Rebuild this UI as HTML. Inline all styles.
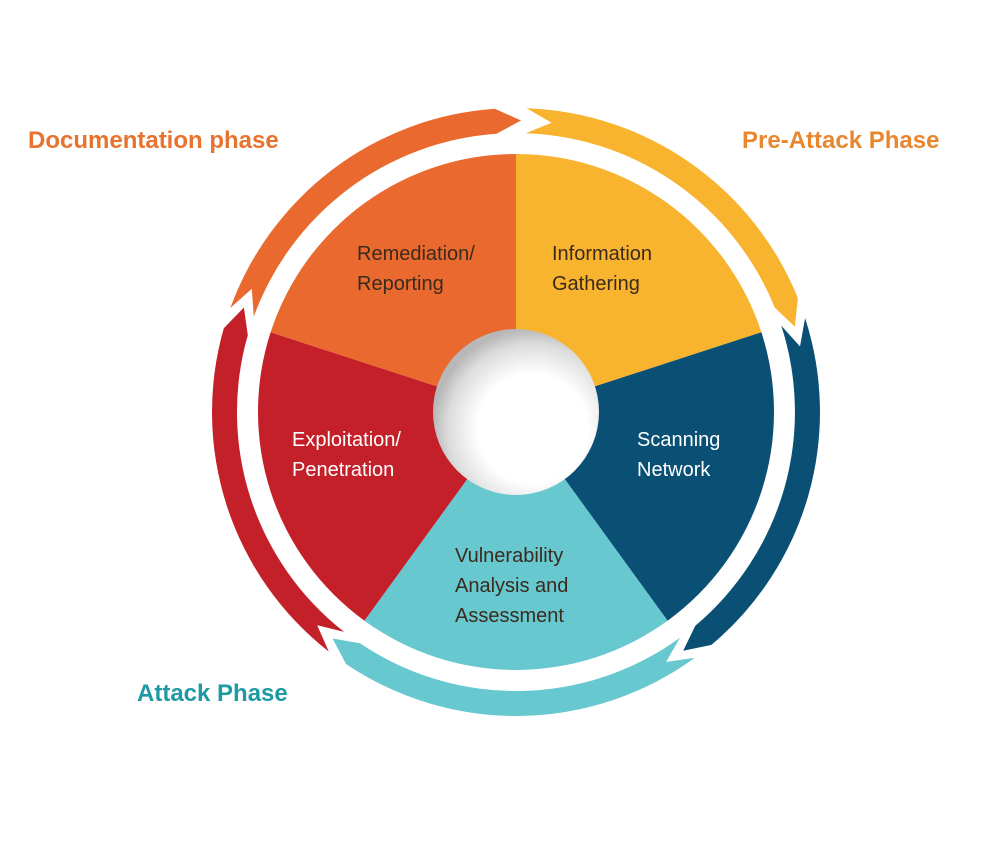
<!DOCTYPE html>
<html><head><meta charset="utf-8">
<style>
html,body{margin:0;padding:0;background:#fff;}
svg{display:block;}
text{font-family:"Liberation Sans",sans-serif;}
</style></head>
<body>
<svg id="s" width="1001" height="844" viewBox="0 0 1001 844" xmlns="http://www.w3.org/2000/svg">
<defs>
<radialGradient id="hole" cx="0.6" cy="0.6" r="0.6">
<stop offset="0.55" stop-color="#ffffff"/>
<stop offset="0.85" stop-color="#dcdcdc"/>
<stop offset="1" stop-color="#b8b8b8"/>
</radialGradient>
</defs>
<g id="g"></g>
<circle cx="516" cy="412" r="83" fill="url(#hole)"/>
<g font-size="20" fill="#3b2a1e">
<text x="357" y="260">Remediation/</text>
<text x="357" y="290">Reporting</text>
<text x="552" y="260">Information</text>
<text x="552" y="290">Gathering</text>
<text x="455" y="562">Vulnerability</text>
<text x="455" y="592">Analysis and</text>
<text x="455" y="622">Assessment</text>
</g>
<g font-size="20" fill="#ffffff">
<text x="637" y="446">Scanning</text>
<text x="637" y="476">Network</text>
<text x="292" y="446">Exploitation/</text>
<text x="292" y="476">Penetration</text>
</g>
<g font-size="24" font-weight="bold">
<text x="28" y="148" fill="#E8732F">Documentation phase</text>
<text x="742" y="148" fill="#E8872F">Pre-Attack Phase</text>
<text x="137" y="701" fill="#1E9AA4">Attack Phase</text>
</g>
</svg>
<script>
var cx=516,cy=412,g=document.getElementById('g'),NS='http://www.w3.org/2000/svg';
function P(r,a){a=a*Math.PI/180;return (cx+r*Math.cos(a)).toFixed(1)+' '+(cy+r*Math.sin(a)).toFixed(1);}
function add(d,f){var p=document.createElementNS(NS,'path');p.setAttribute('d',d);p.setAttribute('fill',f);g.appendChild(p);}
// pie
var cols=['#F9B42F','#0A4F74','#67C8CF','#C3202A','#EA692E'];
for(var i=0;i<5;i++){var a1=-90+72*i,a2=a1+72,R=258;
add('M'+cx+' '+cy+' L'+P(R,a1)+' A'+R+' '+R+' 0 0 1 '+P(R,a2)+' Z',cols[i]);}
// ring arrows
var arr=[[-88,-22,'#F9B42F'],[-18,50,'#0A4F74'],[54,124,'#67C8CF'],[128,196,'#C3202A'],[200,266,'#EA692E']];
var Ro=304,Ri=279,Rm=291.5;
arr.forEach(function(a){var t1=a[0],t2=a[1];
add('M'+P(Ro,t1)+' A'+Ro+' '+Ro+' 0 0 1 '+P(Ro,t2)+' L'+P(Rm,t2+5)+' L'+P(Ri,t2)+' A'+Ri+' '+Ri+' 0 0 0 '+P(Ri,t1)+' L'+P(Rm,t1+5)+' Z',a[2]);});
</script>
</body></html>
